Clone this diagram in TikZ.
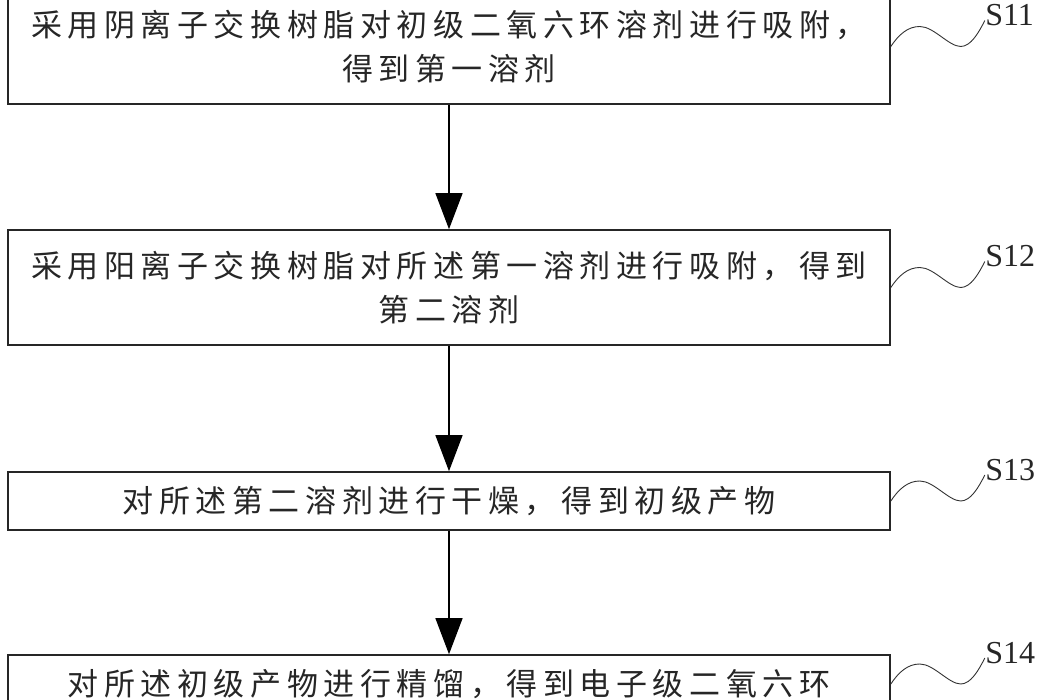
\documentclass[tikz,border=0pt]{standalone}
\usepackage{fontspec}
\setmainfont{Liberation Serif}
\newfontfamily\cjk[LetterSpace=18]{Noto Sans CJK SC}
\usetikzlibrary{arrows.meta,positioning}

\begin{document}
\begin{tikzpicture}[x=1pt,y=-1pt,
  stepbox/.style={draw=black!85,line width=1.6pt,fill=white,minimum width=882pt,
    align=center,inner sep=0pt,text=black!85,font=\cjk\fontsize{31}{44}\selectfont},
  flow/.style={line width=1.2pt,-{Triangle[length=36pt,width=27pt]}},
  wave/.style={line width=0.9pt,black!80},
  steplabel/.style={anchor=west,inner sep=0pt,yshift=5pt,text=black!85,
    font=\fontsize{32}{32}\selectfont}]
  \useasboundingbox (0,0) rectangle (1049,700);
  \clip (0,0) rectangle (1049,700);
  % Steps
  \node[stepbox,minimum height=115pt] (s11) at (449,46.5)
    {采用阴离子交换树脂对初级二氧六环溶剂进行吸附，\\得到第一溶剂};
  \node[stepbox,minimum height=115pt] (s12) at (449,287.5)
    {采用阳离子交换树脂对所述第一溶剂进行吸附，得到\\第二溶剂};
  \node[stepbox,minimum height=58pt] (s13) at (449,501)
    {对所述第二溶剂进行干燥，得到初级产物};
  \node[stepbox,minimum height=58pt] (s14) at (449,684)
    {对所述初级产物进行精馏，得到电子级二氧六环};
  % Arrows
  \draw[flow] (s11) -- (s12);
  \draw[flow] (s12) -- (s13);
  \draw[flow] (s13) -- (s14);
  % Step numbers
  \draw[wave] (s11.east) .. controls +(8,-12) and +(-12,0) .. ++(29,-20)
    .. controls +(14,0) and +(-12,0) .. ++(41,20)
    .. controls +(10,0) and +(-6,12) .. ++(24,-26) node[steplabel] (n11) {S11};
  \draw[wave] (s12.east) .. controls +(8,-12) and +(-12,0) .. ++(29,-20)
    .. controls +(14,0) and +(-12,0) .. ++(41,20)
    .. controls +(10,0) and +(-6,12) .. ++(24,-26) node[steplabel] (n12) {S12};
  \draw[wave] (s13.east) .. controls +(8,-12) and +(-12,0) .. ++(29,-20)
    .. controls +(14,0) and +(-12,0) .. ++(41,20)
    .. controls +(10,0) and +(-6,12) .. ++(24,-26) node[steplabel] (n13) {S13};
  \draw[wave] (s14.east) .. controls +(8,-12) and +(-12,0) .. ++(29,-20)
    .. controls +(14,0) and +(-12,0) .. ++(41,20)
    .. controls +(10,0) and +(-6,12) .. ++(24,-26) node[steplabel] (n14) {S14};
\end{tikzpicture}
\end{document}
